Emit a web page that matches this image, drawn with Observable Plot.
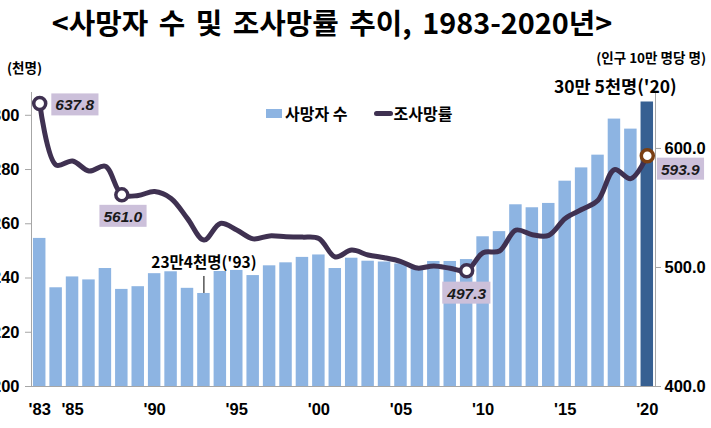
<!DOCTYPE html>
<html><head><meta charset="utf-8">
<script src="https://cdn.jsdelivr.net/npm/d3@7"></script>
<script src="https://cdn.jsdelivr.net/npm/@observablehq/plot@0.6"></script>
<style>
body{margin:0;background:#fff;}
#wrap{position:relative;width:711px;height:428px;overflow:hidden;font-family:"Noto Sans CJK KR",sans-serif;color:#000;background:#fff;}
#title{position:absolute;left:0;top:0;width:664px;height:46px;text-align:center;font-size:28.8px;font-weight:bold;line-height:44px;word-spacing:4px;}
#chart{position:absolute;left:0;top:46px;width:711px;}
.unit{position:absolute;font-size:13.5px;font-weight:bold;white-space:nowrap;}
#legend{position:absolute;left:266px;top:101px;font-size:16px;font-weight:bold;display:flex;align-items:center;white-space:nowrap;}
#legend .sw{display:inline-block;width:16px;height:9px;background:#8DB4E2;margin-right:3px;}
#legend .ln{display:inline-block;width:19px;height:5px;border-radius:3px;background:#3F3151;margin-left:26px;margin-right:1px;}
</style></head>
<body>
<div id="wrap">
  <div id="chart"></div>
  <div id="title">&lt;사망자 수 및 조사망률 추이, 1983-2020년&gt;</div>
  <div class="unit" style="left:7px;top:57px;">(천명)</div>
  <div class="unit" style="right:5px;top:47px;">(인구 10만 명당 명)</div>
  <div id="legend"><span class="sw"></span>사망자 수<span class="ln"></span>조사망률</div>
</div>
<script>
const years = [1983,1984,1985,1986,1987,1988,1989,1990,1991,1992,1993,1994,1995,1996,1997,1998,1999,2000,2001,2002,2003,2004,2005,2006,2007,2008,2009,2010,2011,2012,2013,2014,2015,2016,2017,2018,2019,2020];
// 사망자 수 (천명)
const deaths = [254.6,236.4,240.4,239.3,243.5,235.8,236.8,241.6,242.3,236.2,234.3,242.4,242.8,240.9,244.5,245.6,247.6,248.5,243.5,247.3,246.2,245.9,245.2,243.6,246.1,246.1,246.8,255.2,257.1,267.0,265.9,267.5,275.7,280.6,285.3,298.6,294.9,304.9];
// 조사망률 (인구 10만 명당 명)
const rates = [637.8,586.0,589.5,581.0,585.0,561.0,560.5,563.8,558.0,541.0,523.0,537.0,531.5,524.0,526.5,525.8,525.5,524.4,508.8,514.6,510.5,508.2,505.0,499.5,501.3,499.3,497.3,512.4,513.8,531.4,527.5,527.0,541.2,548.7,556.5,582.2,574.6,593.9];
const leftTicks = [200,220,240,260,280,300];
const rightTicks = [400,500,600];
const xTickYears = [1983,1985,1990,1995,2000,2005,2010,2015,2020];
const xTickLabels = ["'83","'85","'90","'95","'00","'05","'10","'15","'20"];
const note93 = "23만4천명('93)";
const note20 = "30만 5천명('20)";
const labelYears = [1983, 1988, 2009, 2020];

const leftDomain = [200, 308.4];
const rightDomain = [400, 647];
const toLeft = d3.scaleLinear().domain(rightDomain).range(leftDomain);

const data = years.map((year, i) => ({year, deaths: deaths[i], rate: rates[i], rateL: toLeft(rates[i])}));
const pick = y => data.filter(d => d.year === y);

const H = 382, mT = 46, mB = 42;
const pxPerUnit = (H - mT - mB) / (leftDomain[1] - leftDomain[0]);
const axisFont = {fontSize: 16.5, fontWeight: "bold", fontFamily: "Liberation Sans, Arial, sans-serif", fill: "#000"};
const labelStyle = {text: d => d.rate.toFixed(1), fontSize: 15.5, fontWeight: "bold", fontStyle: "italic", fontFamily: "Liberation Sans, Arial, sans-serif", fill: "#1a1a1a"};

const chart = Plot.plot({
  width: 711, height: H,
  marginLeft: 31, marginRight: 56, marginTop: mT, marginBottom: mB,
  style: {background: "transparent", overflow: "visible"},
  x: {type: "band", domain: years, paddingInner: 0.24, paddingOuter: 0.12, round: false},
  y: {domain: leftDomain},
  marks: [
    Plot.barY(data, {x: "year", y1: leftDomain[0], y2: "deaths", fill: d => d.year === 2020 ? "#376092" : "#8DB4E2"}),
    Plot.frame({anchor: "left", stroke: "#a6a6a6"}),
    Plot.frame({anchor: "right", stroke: "#a6a6a6"}),
    Plot.ruleY([leftDomain[0]], {stroke: "#a6a6a6"}),
    Plot.axisY(leftTicks, {anchor: "left", tickSize: 6, tickPadding: 6, stroke: "#a6a6a6", label: null, ...axisFont}),
    Plot.axisY(rightTicks.map(v => toLeft(v)), {anchor: "right", tickSize: 5, tickPadding: 4, stroke: "#a6a6a6", label: null, tickFormat: d => toLeft.invert(d).toFixed(1), ...axisFont}),
    Plot.axisX(xTickYears, {anchor: "bottom", tickSize: 0, tickPadding: 17, label: null, tickFormat: d => xTickLabels[xTickYears.indexOf(d)], ...axisFont}),
    Plot.ruleX(pick(1993), {x: "year", y1: "deaths", y2: d => d.deaths + 17 / pxPerUnit, stroke: "#000", strokeWidth: 1}),
    Plot.text(pick(1993), {x: "year", y: "deaths", text: () => note93, dy: -30, fontSize: 15.5, fontWeight: "bold", fontFamily: "Noto Sans CJK KR", fill: "#000"}),
    Plot.text(pick(2020), {x: "year", y: "deaths", text: () => note20, dx: -32, dy: -15, fontSize: 17.5, fontWeight: "bold", fontFamily: "Noto Sans CJK KR", fill: "#000"}),
    Plot.line(data, {x: "year", y: "rateL", curve: "catmull-rom", stroke: "#3F3151", strokeWidth: 5, strokeLinejoin: "round", strokeLinecap: "round"}),
    Plot.dot([...pick(1983), ...pick(1988), ...pick(2009)], {x: "year", y: "rateL", r: 6, fill: "white", stroke: "#3F3151", strokeWidth: 3.5}),
    Plot.dot(pick(2020), {x: "year", y: "rateL", r: 6, fill: "white", stroke: "#7B3F12", strokeWidth: 3.5}),
    Plot.text(pick(1983), {x: "year", y: "rateL", dx: 35, dy: 2, ...labelStyle}),
    Plot.text(pick(1988), {x: "year", y: "rateL", dx: 1, dy: 22, ...labelStyle}),
    Plot.text(pick(2009), {x: "year", y: "rateL", dx: 0, dy: 23, ...labelStyle}),
    Plot.text(pick(2020), {x: "year", y: "rateL", dx: 33, dy: 14, ...labelStyle})
  ]
});
document.getElementById("chart").appendChild(chart);

// label background boxes behind the rate labels
const labelTexts = new Set(labelYears.map(y => pick(y)[0].rate.toFixed(1)));
chart.querySelectorAll("text").forEach(t => {
  if (!labelTexts.has(t.textContent.trim())) return;
  const b = t.getBBox();
  const r = document.createElementNS("http://www.w3.org/2000/svg", "rect");
  r.setAttribute("x", b.x - 4);
  r.setAttribute("y", b.y - 3);
  r.setAttribute("width", b.width + 8);
  r.setAttribute("height", b.height + 5);
  r.setAttribute("fill", "#CCC0DA");
  if (t.getAttribute("transform")) r.setAttribute("transform", t.getAttribute("transform"));
  t.parentNode.insertBefore(r, t);
});
</script>
</body></html>
